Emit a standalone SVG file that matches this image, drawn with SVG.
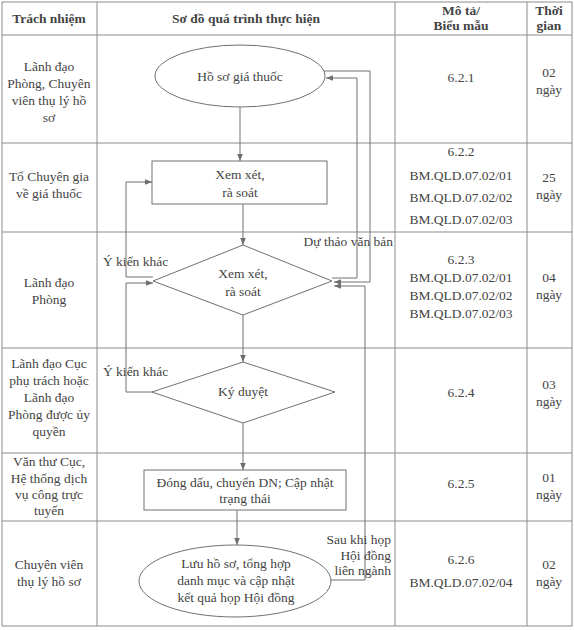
<svg xmlns="http://www.w3.org/2000/svg" width="574" height="630" viewBox="0 0 574 630" font-family="'Liberation Serif', 'Times New Roman', serif">
<defs>
<marker id="ah" viewBox="0 0 10 10" refX="10" refY="5" markerWidth="7" markerHeight="7" orient="auto" markerUnits="userSpaceOnUse">
<path d="M0,1 L10,5 L0,9 z" fill="#6e6e6e"/>
</marker>
<style>
text{font-family:'Liberation Serif','Times New Roman',serif;font-size:13.5px;fill:#444}
.b{font-weight:bold}
.c{text-anchor:middle}
.r{text-anchor:end}
.grid{stroke:#8c8c8c;stroke-width:1;fill:none}
.shape{stroke:#707070;stroke-width:1;fill:#fff}
.conn{stroke:#707070;stroke-width:1;fill:none}
.arr{marker-end:url(#ah)}
</style>
</defs>
<rect width="574" height="630" fill="#fff"/>
<g id="table" class="grid">
<rect x="2" y="2" width="570" height="624"/>
<line x1="97" y1="2" x2="97" y2="626"/>
<line x1="395" y1="2" x2="395" y2="626"/>
<line x1="527" y1="2" x2="527" y2="626"/>
<line x1="2" y1="35" x2="572" y2="35"/>
<line x1="2" y1="143" x2="572" y2="143"/>
<line x1="2" y1="232" x2="572" y2="232"/>
<line x1="2" y1="348" x2="572" y2="348"/>
<line x1="2" y1="453" x2="572" y2="453"/>
<line x1="2" y1="521" x2="572" y2="521"/>
</g>
<g id="header">
<text class="b c" x="49" y="23">Trách nhiệm</text>
<text class="b c" x="246" y="23">Sơ đồ quá trình thực hiện</text>
<text class="b c" x="461" y="15">Mô tả/</text>
<text class="b c" x="461" y="30">Biểu mẫu</text>
<text class="b c" x="549" y="15">Thời</text>
<text class="b c" x="549" y="30">gian</text>
</g>
<g id="col-responsibility">
<text class="c" x="49" y="71">Lãnh đạo</text>
<text class="c" x="49" y="88">Phòng, Chuyên</text>
<text class="c" x="49" y="105">viên thụ lý hồ</text>
<text class="c" x="49" y="122">sơ</text>
<text class="c" x="49" y="181">Tổ Chuyên gia</text>
<text class="c" x="49" y="198">về giá thuốc</text>
<text class="c" x="49" y="287">Lãnh đạo</text>
<text class="c" x="49" y="304">Phòng</text>
<text class="c" x="49" y="368">Lãnh đạo Cục</text>
<text class="c" x="49" y="385">phụ trách hoặc</text>
<text class="c" x="49" y="402">Lãnh đạo</text>
<text class="c" x="49" y="419">Phòng được ủy</text>
<text class="c" x="49" y="436">quyền</text>
<text class="c" x="49" y="466">Văn thư Cục,</text>
<text class="c" x="49" y="483">Hệ thống dịch</text>
<text class="c" x="49" y="499">vụ công trực</text>
<text class="c" x="49" y="515">tuyến</text>
<text class="c" x="49" y="569">Chuyên viên</text>
<text class="c" x="49" y="586">thụ lý hồ sơ</text>
</g>
<g id="col-forms">
<text class="c" x="461" y="82">6.2.1</text>
<text class="c" x="461" y="156">6.2.2</text>
<text class="c" x="461" y="180">BM.QLD.07.02/01</text>
<text class="c" x="461" y="202">BM.QLD.07.02/02</text>
<text class="c" x="461" y="224">BM.QLD.07.02/03</text>
<text class="c" x="461" y="264">6.2.3</text>
<text class="c" x="461" y="282">BM.QLD.07.02/01</text>
<text class="c" x="461" y="300">BM.QLD.07.02/02</text>
<text class="c" x="461" y="318">BM.QLD.07.02/03</text>
<text class="c" x="461" y="397">6.2.4</text>
<text class="c" x="461" y="488">6.2.5</text>
<text class="c" x="461" y="564">6.2.6</text>
<text class="c" x="461" y="587">BM.QLD.07.02/04</text>
</g>
<g id="col-time">
<text class="c" x="549" y="77">02</text>
<text class="c" x="549" y="94">ngày</text>
<text class="c" x="549" y="182">25</text>
<text class="c" x="549" y="199">ngày</text>
<text class="c" x="549" y="282">04</text>
<text class="c" x="549" y="299">ngày</text>
<text class="c" x="549" y="389">03</text>
<text class="c" x="549" y="406">ngày</text>
<text class="c" x="549" y="482">01</text>
<text class="c" x="549" y="499">ngày</text>
<text class="c" x="549" y="569">02</text>
<text class="c" x="549" y="586">ngày</text>
</g>
<g id="connectors">
<line class="conn arr" x1="240" y1="107" x2="240" y2="161"/>
<line class="conn arr" x1="243" y1="204" x2="243" y2="245"/>
<line class="conn arr" x1="243" y1="315" x2="243" y2="362"/>
<line class="conn arr" x1="243" y1="423" x2="243" y2="470"/>
<line class="conn arr" x1="237" y1="510" x2="237" y2="545"/>
<polyline class="conn arr" points="153,277 126,277 126,182 152,182"/>
<polyline class="conn arr" points="152,392 126,392 126,283 153,283"/>
<polyline class="conn arr" points="332,278 357,278 357,78 326,78"/>
<polyline class="conn arr" points="323,71 370,71 370,282 334,282"/>
<polyline class="conn arr" points="330,580 365,580 365,286 334,286"/>
<text class="r" x="393" y="246">Dự thảo văn bản</text>
<text x="103" y="266">Ý kiến khác</text>
<text x="103" y="376">Ý kiến khác</text>
<text class="r" x="391" y="544">Sau khi họp</text>
<text class="r" x="391" y="560">Hội đồng</text>
<text class="r" x="391" y="575">liên ngành</text>
</g>
<g id="n1">
<ellipse class="shape" cx="240" cy="76" rx="85" ry="31"/>
<text class="c" x="240" y="81">Hồ sơ giá thuốc</text>
</g>
<g id="n2">
<rect class="shape" x="152" y="161" width="175" height="43"/>
<text class="c" x="240" y="179">Xem xét,</text>
<text class="c" x="240" y="197">rà soát</text>
</g>
<g id="n3">
<polygon class="shape" points="243,245 332,281 243,315 153,281"/>
<text class="c" x="243" y="278">Xem xét,</text>
<text class="c" x="243" y="296">rà soát</text>
</g>
<g id="n4">
<polygon class="shape" points="243,362 335,392 243,423 152,392"/>
<text class="c" x="243" y="396">Ký duyệt</text>
</g>
<g id="n5">
<rect class="shape" x="144" y="470" width="202" height="40"/>
<text class="c" x="245" y="487">Đóng dấu, chuyển DN; Cập nhật</text>
<text class="c" x="245" y="503">trạng thái</text>
</g>
<g id="n6">
<ellipse class="shape" cx="235" cy="581" rx="96" ry="36"/>
<text class="c" x="236" y="568">Lưu hồ sơ, tổng hợp</text>
<text class="c" x="236" y="585">danh mục và cập nhật</text>
<text class="c" x="236" y="602">kết quả họp Hội đồng</text>
</g>
</svg>
